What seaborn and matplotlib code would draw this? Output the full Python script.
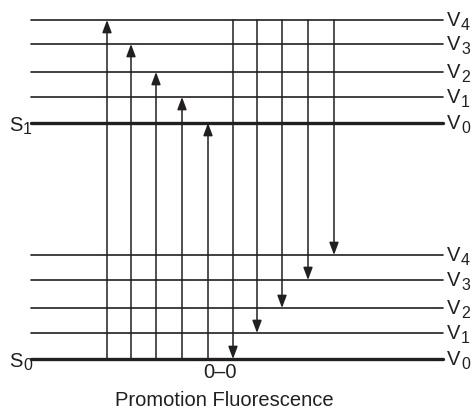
import matplotlib
matplotlib.use("Agg")
import matplotlib.pyplot as plt
import seaborn as sns
import pandas as pd

# vibrational levels (energy units, S0 V0 = 0)
s0_levels = [0, 26, 51, 79, 104]
s1_levels = [236, 262, 287, 315, 339]
level_names = ["V0", "V1", "V2", "V3", "V4"]

# horizontal positions of the transitions
promotion_x = [107, 131, 156, 182, 208]      # S0 V0 -> S1 V4..V0
fluorescence_x = [233, 257, 282, 308, 334]   # S1 V0 -> S0 V0..V4
promotion_to = [339, 315, 287, 262, 236]
fluorescence_to = [0, 26, 51, 79, 104]

x_start, x_end = 31, 443
ink = "#231f20"

sns.set_theme(style="white")
plt.rcParams["font.family"] = ["Liberation Sans", "DejaVu Sans"]

rows = []
for i, (e0, e1) in enumerate(zip(s0_levels, s1_levels)):
    for x in (x_start, x_end):
        rows.append({"x": x, "energy": e0, "line": f"S0-{i}", "v": i})
        rows.append({"x": x, "energy": e1, "line": f"S1-{i}", "v": i})
levels = pd.DataFrame(rows)

fig = plt.figure(figsize=(4.73, 4.09), dpi=100)
ax = fig.add_axes([0, 0, 1, 1])

sns.lineplot(data=levels[levels.v > 0], x="x", y="energy", units="line",
             estimator=None, color=ink, lw=1.2, ax=ax)
sns.lineplot(data=levels[levels.v == 0], x="x", y="energy", units="line",
             estimator=None, color=ink, lw=2.4, ax=ax)

arrow = dict(arrowstyle="-|>,head_length=0.75,head_width=0.28", color=ink,
             lw=1.1, shrinkA=0, shrinkB=0, mutation_scale=10)
for x, top in zip(promotion_x, promotion_to):
    ax.annotate("", xy=(x, top), xytext=(x, s0_levels[0]), arrowprops=arrow)
for x, bottom in zip(fluorescence_x, fluorescence_to):
    ax.annotate("", xy=(x, bottom), xytext=(x, s1_levels[-1]), arrowprops=arrow)

for i, (e0, e1) in enumerate(zip(s0_levels, s1_levels)):
    for e in (e0, e1):
        ax.text(447, e - 6, "V", fontsize=14.5, color=ink,
                ha="left", va="baseline")
        ax.text(461, e - 10, str(i), fontsize=11.5, color=ink,
                ha="left", va="baseline")

for name, e in (("1", s1_levels[0]), ("0", s0_levels[0])):
    ax.text(23, e - 8, "S", fontsize=14.5, color=ink, ha="right", va="baseline")
    ax.text(23, e - 11, name, fontsize=11.5, color=ink, ha="left", va="baseline")

ax.text(220, -13, "0\u20130", fontsize=14.5, color=ink, ha="center", va="center")
ax.text(224, -41, "Promotion Fluorescence", fontsize=14.5, color=ink,
        ha="center", va="center")

ax.set_xlim(0, 473)
ax.set_ylim(-50, 359)
ax.set_axis_off()

fig.savefig("out.png", dpi=100)
